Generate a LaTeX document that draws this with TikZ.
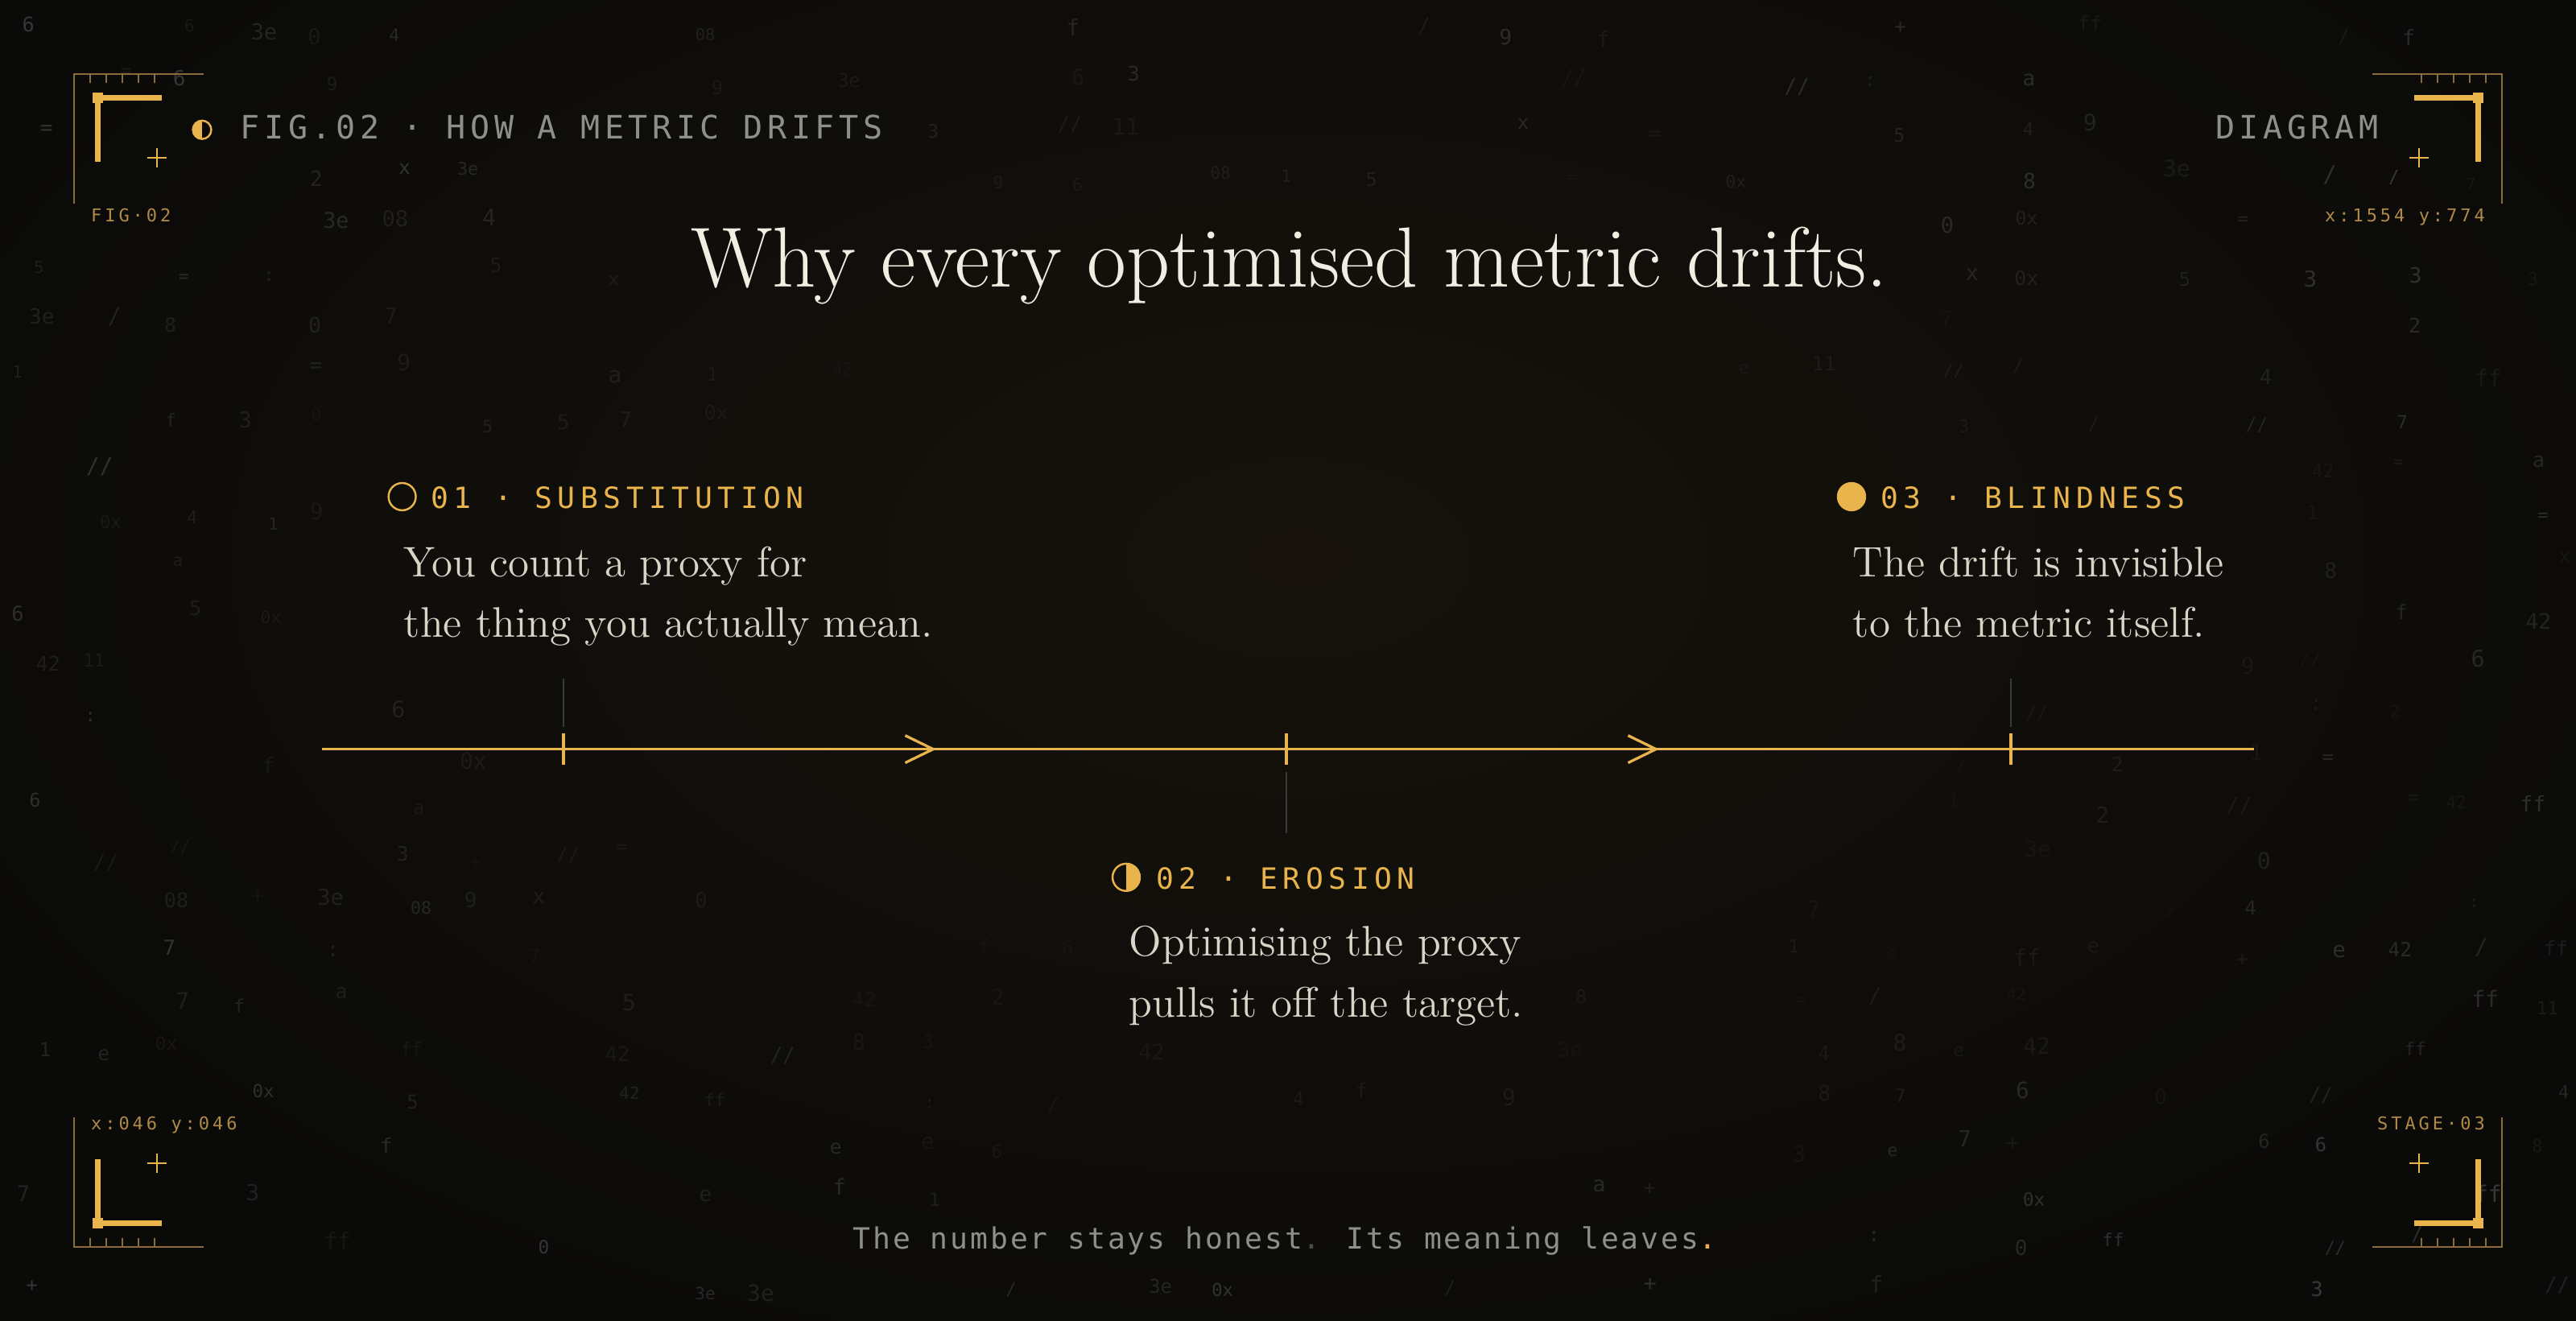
\documentclass[tikz,border=0pt]{standalone}
\usepackage{fontspec}
\newfontfamily\monof{DejaVu Sans Mono}
\newfontfamily\monohead[LetterSpace=14]{DejaVu Sans Mono}
\newfontfamily\monostage[LetterSpace=18]{DejaVu Sans Mono}
\newfontfamily\monofoot[LetterSpace=8]{DejaVu Sans Mono}
\newfontfamily\monocorner[LetterSpace=18]{DejaVu Sans Mono}
\definecolor{bg}{HTML}{0A0A09}
\definecolor{glow}{HTML}{17130C}
\definecolor{gold}{HTML}{E9B44C}
\definecolor{golddim}{HTML}{B08A45}
\definecolor{goldline}{HTML}{8A6C3A}
\definecolor{headc}{HTML}{8E8E8C}
\definecolor{dimdot}{HTML}{4A4A48}
\definecolor{titlec}{HTML}{F1EDE2}
\definecolor{bodyc}{HTML}{D8D4C8}
\definecolor{leaderc}{HTML}{3A3A38}
\definecolor{noisec}{HTML}{A8A8A8}
\tikzset{
  titletext/.style={text=titlec, font=\fontsize{26}{30}\selectfont, inner sep=0, anchor=base},
  bodytext/.style={text=bodyc, font=\fontsize{13}{16}\selectfont, inner sep=0, anchor=base west},
  stagetext/.style={text=gold, font=\monostage\fontsize{8.9}{10}\selectfont, inner sep=0, anchor=base west},
  headtext/.style={text=headc, font=\monohead\fontsize{9.8}{11}\selectfont, inner sep=0},
  foottext/.style={text=headc, font=\monofoot\fontsize{8.9}{10}\selectfont, inner sep=0, anchor=base},
  cornertext/.style={text=golddim, font=\monocorner\fontsize{5.4}{6}\selectfont, inner sep=0},
  noisetext/.style={text=noisec, inner sep=0},
  tline/.style={draw=gold, line width=0.8pt},
  leaderline/.style={draw=leaderc, line width=0.5pt},
  iconring/.style={circle, draw=gold, line width=0.6pt, inner sep=0, minimum size=8.3pt},
  corner/.pic={
    \draw[goldline, line width=0.6pt] (124,45) -- (45,45) -- (45,124);
    \foreach \tx in {55,64.75,74.5,84.25,94} \draw[goldline, line width=0.45pt] (\tx,45) -- (\tx,50.6);
    \draw[gold, line width=1.65pt] (98.6,59.6) -- (59.4,59.6) -- (59.4,98.3);
    \fill[gold] (56.2,56.4) rectangle (62.6,62.8);
    \draw[gold, line width=0.5pt] (89.6,96) -- (101.6,96) (95.6,90) -- (95.6,102);
  }
}
\pgfmathdeclarerandomlist{noiselist}{{6}{9}{f}{11}{42}{0x}{+}{x}{0}{08}{a}{1}{7}{:}{//}{=}{3e}{ff}{e}{5}{4}{2}{3}{8}{/}}
\begin{document}
\begin{tikzpicture}[x=0.5pt,y=-0.5pt]
\useasboundingbox (0,0) rectangle (1568,804);
\fill[bg] (0,0) rectangle (1568,804);
\begin{scope}
  \clip (0,0) rectangle (1568,804);
  \shade[inner color=glow, outer color=bg] (790,340) ellipse [x radius=900, y radius=520];
\end{scope}
% background noise glyphs
\pgfmathsetseed{42}
\foreach \c in {0,...,34}{
  \foreach \r in {0,...,26}{
    \pgfmathsetmacro\keep{rnd}
    \pgfmathsetmacro\nx{10+\c*45+rnd*22}
    \pgfmathsetmacro\ny{14+\r*29.5+rnd*10}
    \pgfmathsetmacro\nd{sqrt(((\nx-784)/784)^2+((\ny-390)/402)^2)}
    \pgfmathsetmacro\nop{max(0,min(1,(\nd-0.4)*1.5))*(0.07+0.22*rnd)}
    \pgfmathsetmacro\ns{5+2*rnd}
    \pgfmathrandomitem{\nt}{noiselist}
    \pgfmathsetmacro\inz{((\nx>100)&&(\nx<560)&&(\ny>55)&&(\ny<100)) || ((\nx>1330)&&(\nx<1465)&&(\ny>55)&&(\ny<100)) || ((\nx>395)&&(\nx<1175)&&(\ny>118)&&(\ny<202)) || ((\nx>220)&&(\nx<605)&&(\ny>280)&&(\ny<405)) || ((\nx>1100)&&(\nx<1380)&&(\ny>280)&&(\ny<405)) || ((\nx>660)&&(\nx<955)&&(\ny>510)&&(\ny<635)) || ((\nx>500)&&(\nx<1065)&&(\ny>733)&&(\ny<777)) || ((\nx>40)&&(\nx<160)&&(\ny>115)&&(\ny<145)) || ((\nx>1395)&&(\nx<1525)&&(\ny>115)&&(\ny<145)) || ((\nx>40)&&(\nx<160)&&(\ny>668)&&(\ny<698)) || ((\nx>1430)&&(\nx<1525)&&(\ny>668)&&(\ny<698))}
    \ifdim\keep pt<0.42pt
      \ifdim\inz pt<0.5pt
        \ifdim\nop pt>0.035pt
          \node[noisetext, opacity=\nop, font=\monof\fontsize{\ns}{\ns}\selectfont] (n-\c-\r) at (\nx,\ny) {\nt};
        \fi
      \fi
    \fi
  }
}
% corner brackets
\pic at (0,0) {corner};
\pic[xscale=-1] at (1568,0) {corner};
\pic[yscale=-1] at (0,804) {corner};
\pic[xscale=-1,yscale=-1] at (1568,804) {corner};
\node[cornertext, anchor=base west] (lblTL) at (55,135.2) {FIG·02};
\node[cornertext, anchor=base east] (lblTR) at (1513,135.2) {x:1554 y:774};
\node[cornertext, anchor=base west] (lblBL) at (55,687.9) {x:046 y:046};
\node[cornertext, anchor=base east] (lblBR) at (1513,687.9) {STAGE·03};
% header
\node[iconring, minimum size=5.6pt, path picture={\fill[gold] (path picture bounding box.north west) rectangle (path picture bounding box.south);}] (hicon) at (123,79) {};
\node[headtext, anchor=base west] (head) at (146,84.6) {FIG.02 · HOW A METRIC DRIFTS};
\node[headtext, anchor=base east] (diag) at (1448,84.6) {DIAGRAM};
% title
\node[titletext] (title) at (785,174.8) {Why every optimised metric drifts.};
% timeline
\coordinate (tl0) at (196,456);
\coordinate (tl1) at (1372,456);
\coordinate (t1) at (343,456);
\coordinate (t2) at (783,456);
\coordinate (t3) at (1224,456);
\coordinate (c1) at (568,456);
\coordinate (c2) at (1008,456);
\draw[tline] (tl0) -- (tl1);
\foreach \t in {t1,t2,t3}{
  \draw[tline] ([shift={(0,-9.5)}]\t) -- ([shift={(0,9.5)}]\t);
}
\foreach \cc in {c1,c2}{
  \draw[tline, line join=miter] ([shift={(-17,-8.3)}]\cc) -- (\cc) -- ([shift={(-17,8.3)}]\cc);
}
% leader lines
\coordinate (ld1) at (343,413);
\coordinate (ld3) at (1224,413);
\coordinate (ld2) at (783,507);
\draw[leaderline] (ld1) -- ([shift={(0,-13.5)}]t1);
\draw[leaderline] (ld3) -- ([shift={(0,-13.5)}]t3);
\draw[leaderline] ([shift={(0,14)}]t2) -- (ld2);
% stage 01
\node[iconring] (i1) at (244.8,302.3) {};
\node[stagetext] (s1) at (262,309.5) {01 · SUBSTITUTION};
\node[bodytext] (b1a) at (245.5,351) {You count a proxy for};
\node[bodytext] (b1b) at (245.5,388) {the thing you actually mean.};
% stage 03
\node[iconring, fill=gold] (i3) at (1127,302.3) {};
\node[stagetext] (s3) at (1144.5,309.5) {03 · BLINDNESS};
\node[bodytext] (b3a) at (1127.5,351) {The drift is invisible};
\node[bodytext] (b3b) at (1127.5,388) {to the metric itself.};
% stage 02
\node[iconring, path picture={\fill[gold] (path picture bounding box.north) rectangle (path picture bounding box.south east);}] (i2) at (685.5,534) {};
\node[stagetext] (s2) at (703.5,541.4) {02 · EROSION};
\node[bodytext] (b2a) at (687,582) {Optimising the proxy};
\node[bodytext] (b2b) at (687,619) {pulls it off the target.};
% footer
\node[foottext] (foot) at (782,760.3) {The number stays honest{\color{dimdot}.} Its meaning leaves{\color{gold}.}};
\end{tikzpicture}
\end{document}
